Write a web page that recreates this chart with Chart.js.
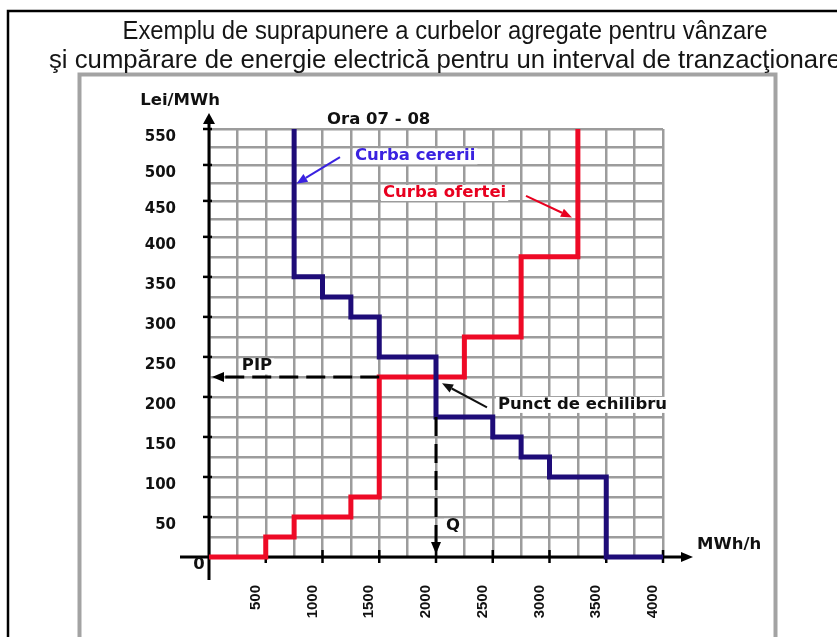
<!DOCTYPE html>
<html>
<head>
<meta charset="utf-8">
<script src="https://cdn.jsdelivr.net/npm/chart.js@4.4.0/dist/chart.umd.min.js"></script>
<style>
  html, body { margin: 0; padding: 0; background: #fff; }
  #grafic { display: block; }
</style>
</head>
<body>
<canvas id="grafic" width="837" height="637"></canvas>
<script>

// curbele agregate (MWh/h, Lei/MWh) - fiecare treapta e orizontala intre doua cantitati
const cerereCantitati = [750, 750, 1000, 1250, 1500, 2000, 2500, 2750, 3000, 3500, 4000];
const cererePreturi = [550, 350, 325, 300, 250, 175, 150, 125, 100, 0];
const ofertaCantitati = [0, 500, 750, 1250, 1500, 2250, 2750, 3250, 3250];
const ofertaPreturi = [0, 25, 50, 75, 225, 275, 375, 550];

// punctul de echilibru
const pip = 225;
const cantitateQ = 2000;

// axe
const xMax = 4000;
const yMax = 550;
const valoriX = [500, 1000, 1500, 2000, 2500, 3000, 3500, 4000];
const valoriY = [50, 100, 150, 200, 250, 300, 350, 400, 450, 500, 550];

const titlu = [
    'Exemplu de suprapunere a curbelor agregate pentru vânzare',
    'şi cumpărare de energie electrică pentru un interval de tranzacţionare'
];

const albastru = '#1e0c78';
const rosu = '#ee0a26';
const fontBold = "bold 15px 'DejaVu Sans'";

// in desenul original grila e mai deasa peste 400 Lei/MWh
const rupturaY = { valoare: 400, fractiune: 0.748 };

// texte si sageti pe grafic, in coordonatele datelor
const adnotari = [
    { text: 'Lei/MWh', x: -255, y: 589, align: 'center', color: '#111', fundal: false },
    { text: 'Ora 07 - 08', x: 1040, y: 562, align: 'left', color: '#111', fundal: false },
    { text: 'Curba cererii', x: 1286, y: 512, align: 'left', color: '#3a22e0', fundal: true },
    { text: 'Curba ofertei', x: 1533, y: 461, align: 'left', color: '#e8001f', fundal: true },
    { text: 'Punct de echilibru', x: 2546, y: 190, align: 'left', color: '#111', fundal: true },
    { text: 'PIP', x: 423, y: 238, align: 'center', color: '#111', fundal: true },
    { text: 'Q', x: 2150, y: 38, align: 'center', color: '#111', fundal: true },
    { text: 'MWh/h', x: 4300, y: 15, align: 'left', color: '#111', fundal: false },
    { text: '0', x: -88, y: -10, align: 'center', color: '#111', fundal: false }
];
const sageti = [
    { de: [1154, 511], la: [770, 474], color: '#3a22e0' },
    { de: [2793, 457], la: [3198, 427], color: '#e8001f' },
    { de: [2449, 187], la: [2053, 217], color: '#111' }
];

// scala liniara cu doua pante
class ScalaFranta extends Chart.LinearScale {
    getPixelForValue(value) {
        if (value === null || value === undefined || isNaN(value)) return NaN;
        let dec;
        if (value <= rupturaY.valoare) {
            dec = (value - this.min) / (rupturaY.valoare - this.min) * rupturaY.fractiune;
        } else {
            dec = rupturaY.fractiune + (value - rupturaY.valoare) / (this.max - rupturaY.valoare) * (1 - rupturaY.fractiune);
        }
        return this.getPixelForDecimal(dec);
    }
    getValueForPixel(pixel) {
        let dec = this.getDecimalForPixel(pixel);
        if (dec <= rupturaY.fractiune) {
            return this.min + dec / rupturaY.fractiune * (rupturaY.valoare - this.min);
        }
        return rupturaY.valoare + (dec - rupturaY.fractiune) / (1 - rupturaY.fractiune) * (this.max - rupturaY.valoare);
    }
}
ScalaFranta.id = 'franta';
ScalaFranta.defaults = Chart.LinearScale.defaults;
Chart.register(ScalaFranta);

function trepte(cantitati, preturi) {
    let puncte = [];
    preturi.forEach(function (p, i) {
        puncte.push({ x: cantitati[i], y: p });
        puncte.push({ x: cantitati[i + 1], y: p });
    });
    return puncte;
}

function sageata(ctx, x1, y1, x2, y2, color, lw, len, half, dash) {
    let a = Math.atan2(y2 - y1, x2 - x1);
    let bx = x2 - len * Math.cos(a);
    let by = y2 - len * Math.sin(a);
    ctx.save();
    ctx.strokeStyle = color;
    ctx.fillStyle = color;
    ctx.lineWidth = lw;
    if (dash) ctx.setLineDash(dash);
    ctx.beginPath();
    ctx.moveTo(x1, y1);
    ctx.lineTo(bx, by);
    ctx.stroke();
    ctx.setLineDash([]);
    ctx.beginPath();
    ctx.moveTo(x2, y2);
    ctx.lineTo(bx + half * Math.sin(a), by - half * Math.cos(a));
    ctx.lineTo(bx - half * Math.sin(a), by + half * Math.cos(a));
    ctx.closePath();
    ctx.fill();
    ctx.restore();
}

const desen = {
    id: 'desen',
    beforeDraw(chart) {
        const ctx = chart.ctx;
        ctx.save();
        ctx.fillStyle = '#fff';
        ctx.fillRect(0, 0, chart.width, chart.height);

        // rama neagra si rama gri
        ctx.strokeStyle = '#000';
        ctx.lineWidth = 2.5;
        ctx.beginPath();
        ctx.moveTo(8, 640);
        ctx.lineTo(8, 11);
        ctx.lineTo(840, 11);
        ctx.stroke();
        ctx.strokeStyle = '#a3a3a3';
        ctx.lineWidth = 4;
        ctx.beginPath();
        ctx.moveTo(79.5, 640);
        ctx.lineTo(79.5, 74.5);
        ctx.lineTo(775.5, 74.5);
        ctx.lineTo(775.5, 640);
        ctx.stroke();

        // titlu - fiecare rand intins la latimea din imagine
        ctx.font = "26px 'Liberation Sans'";
        ctx.fillStyle = '#151515';
        ctx.textAlign = 'center';
        ctx.textBaseline = 'alphabetic';
        [[39, 645], [68, 792]].forEach(function (r, i) {
            let sx = r[1] / ctx.measureText(titlu[i]).width;
            ctx.save();
            ctx.translate(445, r[0]);
            ctx.scale(sx, 1);
            ctx.fillText(titlu[i], 0, 0);
            ctx.restore();
        });
        ctx.restore();
    },
    beforeDatasetsDraw(chart) {
        const ctx = chart.ctx;
        const sx = chart.scales.x, sy = chart.scales.y;
        const x0 = sx.getPixelForValue(0), y0 = sy.getPixelForValue(0);
        // axele cu sageti
        sageata(ctx, x0, y0 + 23, x0, sy.getPixelForValue(yMax) - 16, '#000', 3, 11, 6);
        sageata(ctx, x0 - 29, y0, sx.getPixelForValue(xMax) + 30, y0, '#000', 3, 12, 5);
        ctx.save();
        ctx.strokeStyle = '#000';
        ctx.lineWidth = 2.5;
        valoriY.forEach(function (v) {
            let p = sy.getPixelForValue(v);
            ctx.beginPath();
            ctx.moveTo(x0 - 6, p);
            ctx.lineTo(x0 + 3, p);
            ctx.stroke();
        });
        valoriX.forEach(function (v) {
            let p = sx.getPixelForValue(v);
            ctx.beginPath();
            ctx.moveTo(p, y0 - 7);
            ctx.lineTo(p, y0 + 6);
            ctx.stroke();
        });
        ctx.restore();
    },
    afterDatasetsDraw(chart) {
        const ctx = chart.ctx;
        const sx = chart.scales.x, sy = chart.scales.y;
        const x0 = sx.getPixelForValue(0), y0 = sy.getPixelForValue(0);

        // liniile punctate PIP si Q
        let xStart = ofertaCantitati[ofertaPreturi.indexOf(pip)];
        let yStart = cererePreturi[cerereCantitati.indexOf(cantitateQ)];
        sageata(ctx, sx.getPixelForValue(xStart), sy.getPixelForValue(pip), x0 + 3, sy.getPixelForValue(pip),
            '#000', 3, 12, 5, [19, 8]);
        sageata(ctx, sx.getPixelForValue(cantitateQ), sy.getPixelForValue(yStart), sx.getPixelForValue(cantitateQ), y0 - 3,
            '#000', 3, 12, 5, [19, 8]);

        sageti.forEach(function (s) {
            sageata(ctx, sx.getPixelForValue(s.de[0]), sy.getPixelForValue(s.de[1]),
                sx.getPixelForValue(s.la[0]), sy.getPixelForValue(s.la[1]), s.color, 2, 11, 4.5);
        });

        // textele, putin latite ca in imagine
        const lat = 1.1;
        ctx.save();
        ctx.font = fontBold;
        ctx.textBaseline = 'middle';
        ctx.textAlign = 'left';
        adnotari.forEach(function (a) {
            let px = sx.getPixelForValue(a.x), py = sy.getPixelForValue(a.y);
            let w = ctx.measureText(a.text).width * lat;
            let left = a.align === 'center' ? px - w / 2 : px;
            if (a.fundal) {
                ctx.fillStyle = '#fff';
                ctx.fillRect(left - 2, py - 8, w + 4, 16);
            }
            ctx.fillStyle = a.color;
            ctx.save();
            ctx.translate(left, py);
            ctx.scale(lat, 1);
            ctx.fillText(a.text, 0, 0);
            ctx.restore();
        });
        ctx.restore();
    }
};

let myChart = new Chart(document.getElementById('grafic'), {
    type: 'scatter',
    data: {
        datasets: [{
            label: 'Curba cererii',
            data: trepte(cerereCantitati, cererePreturi),
            showLine: true,
            borderColor: albastru,
            backgroundColor: albastru,
            borderWidth: 5,
            borderJoinStyle: 'miter',
            pointRadius: 0,
            tension: 0,
            clip: false,
            order: 0
        }, {
            label: 'Curba ofertei',
            data: trepte(ofertaCantitati, ofertaPreturi),
            showLine: true,
            borderColor: rosu,
            backgroundColor: rosu,
            borderWidth: 5,
            borderJoinStyle: 'miter',
            pointRadius: 0,
            tension: 0,
            clip: false,
            order: 1
        }]
    },
    options: {
        responsive: false,
        animation: false,
        devicePixelRatio: 1,
        layout: { padding: { left: 100, right: 174, top: 129, bottom: 0 } },
        plugins: {
            legend: { display: false },
            tooltip: { enabled: false }
        },
        scales: {
            x: {
                type: 'linear',
                min: 0,
                max: xMax,
                afterFit: function (s) { s.height = 80; },
                border: { display: false },
                grid: { color: '#9c9c9c', lineWidth: 2.5, drawTicks: false },
                ticks: {
                    stepSize: 250,
                    autoSkip: false,
                    minRotation: 90,
                    maxRotation: 90,
                    padding: 28,
                    labelOffset: -10,
                    color: '#111',
                    font: { family: "'Liberation Sans', sans-serif", size: 15, weight: 'bold' },
                    callback: function (v) { return valoriX.includes(v) ? String(v) : ''; }
                }
            },
            y: {
                type: 'franta',
                min: 0,
                max: yMax,
                afterFit: function (s) { s.width = 109; },
                border: { display: false },
                grid: { color: '#9c9c9c', lineWidth: 2.5, drawTicks: false },
                ticks: {
                    stepSize: 25,
                    autoSkip: false,
                    padding: 33,
                    labelOffset: 8,
                    color: '#111',
                    font: { family: "'DejaVu Sans'", size: 15, weight: 'bold' },
                    callback: function (v) { return valoriY.includes(v) ? String(v) : ''; }
                }
            }
        }
    },
    plugins: [desen]
});
</script>
</body>
</html>
